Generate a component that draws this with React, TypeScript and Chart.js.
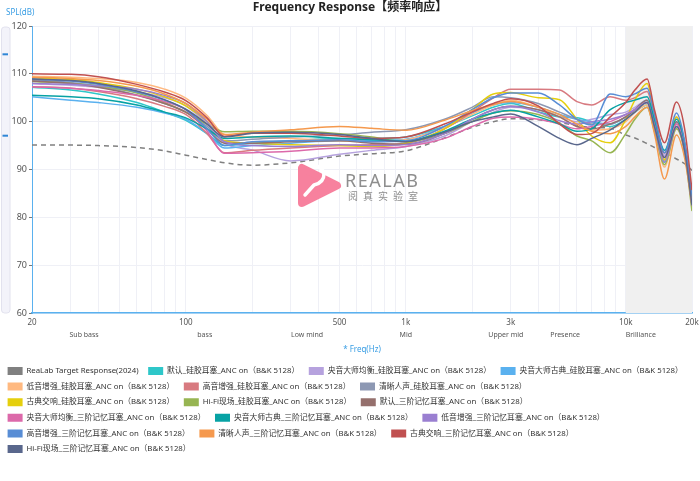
import React, { useEffect, useRef } from 'react';
import { Chart, registerables } from 'chart.js';

Chart.register(...registerables);
Chart.defaults.font.family = "'Noto Sans', 'Noto Sans CJK SC', sans-serif";

// shared frequency points (Hz)
const FREQS = [20, 30, 40, 60, 80, 100, 125, 150, 200, 300, 500, 700, 1000, 1500, 2000, 2500, 3000, 4000, 5000, 6000, 7000, 8500, 10000, 11000, 12500, 13500, 15000, 17000, 18500, 20000];

const GRID_FREQS = [20, 30, 40, 50, 60, 70, 80, 90, 100, 200, 300, 400, 500, 600, 700, 800, 900, 1000, 2000, 3000, 4000, 5000, 6000, 7000, 8000, 9000, 10000, 20000];
const TICK_LABELS: Record<number, string> = { 20: '20', 100: '100', 500: '500', 1000: '1k', 3000: '3k', 10000: '10k', 20000: '20k' };

const BAND_NAMES = ['Sub bass', 'bass', 'Low mind', 'Mid', 'Upper mid', 'Presence', 'Brilliance'];
const BAND_FREQS = [34.5, 122, 356, 1000, 2850, 5300, 11700];

const target = [95.1, 95.1, 95.0, 94.6, 93.9, 93.0, 92.1, 91.4, 90.9, 91.4, 92.8, 93.3, 93.9, 96.6, 98.8, 100.0, 100.6, 100.4, 99.8, 99.2, 98.8, 98.6, 97.2, 96.6, 95.4, 94.6, 93.6, 92.2, 91.2, 89.8];
const defaultSilicone = [107.2, 106.6, 105.8, 104.0, 102.0, 100.3, 97.5, 95.0, 95.5, 96.0, 96.5, 96.5, 96.8, 99.0, 101.2, 103.0, 103.8, 102.1, 101.0, 100.8, 100.0, 99.0, 100.5, 102.0, 103.5, 99.0, 91.5, 99.0, 94.5, 82.5];
const masterEqSilicone = [108.0, 107.6, 107.2, 106.2, 105.0, 103.3, 99.5, 95.5, 94.1, 91.8, 93.2, 94.0, 94.8, 97.0, 100.0, 102.0, 103.0, 102.5, 101.0, 100.0, 100.5, 101.5, 102.0, 103.0, 104.5, 100.0, 93.0, 100.0, 95.0, 84.0];
const masterClassicSilicone = [105.2, 104.5, 104.0, 103.0, 101.8, 100.5, 97.5, 94.5, 95.0, 95.5, 96.0, 96.0, 96.3, 99.0, 101.8, 103.5, 104.0, 103.0, 101.5, 100.5, 100.0, 99.5, 101.0, 102.5, 104.5, 99.5, 92.5, 100.0, 95.0, 83.5];
const bassSilicone = [109.5, 109.3, 109.0, 108.2, 106.8, 104.9, 101.3, 97.3, 96.8, 96.5, 96.0, 95.8, 96.2, 98.8, 101.5, 103.5, 104.5, 103.0, 101.0, 99.0, 98.2, 98.5, 100.0, 102.0, 103.5, 99.0, 90.5, 98.5, 94.0, 83.5];
const trebleSilicone = [107.3, 107.0, 106.3, 104.8, 103.2, 101.5, 97.5, 93.5, 94.0, 94.5, 95.0, 95.2, 95.5, 98.5, 102.0, 105.0, 106.8, 106.8, 106.6, 104.2, 103.5, 105.2, 104.5, 105.0, 106.3, 101.0, 93.5, 101.0, 95.5, 84.0];
const vocalSilicone = [108.7, 108.2, 107.4, 105.6, 103.8, 102.0, 99.0, 96.0, 96.3, 96.8, 97.2, 97.8, 98.3, 100.5, 103.0, 105.2, 105.0, 103.8, 102.0, 100.5, 99.5, 99.5, 101.0, 102.5, 104.0, 99.5, 92.0, 99.5, 94.5, 83.0];
const symphonySilicone = [109.2, 108.8, 108.2, 106.8, 105.2, 103.3, 100.0, 96.0, 95.5, 95.2, 95.0, 94.8, 95.5, 98.5, 102.5, 105.8, 106.1, 105.0, 104.6, 100.5, 97.0, 95.6, 100.5, 104.5, 108.0, 101.0, 92.0, 101.0, 95.5, 83.0];
const hifiSilicone = [108.4, 108.0, 107.5, 106.0, 104.0, 102.0, 99.5, 97.9, 98.0, 98.0, 97.5, 96.8, 95.8, 97.5, 100.0, 101.8, 102.3, 101.5, 99.7, 97.0, 96.0, 93.5, 97.5, 100.5, 103.0, 98.0, 91.0, 98.5, 93.5, 81.3];
const defaultFoam = [108.5, 108.0, 107.2, 105.5, 103.8, 102.0, 98.5, 95.5, 95.5, 95.8, 96.0, 95.5, 95.3, 97.5, 100.5, 102.5, 103.2, 102.5, 101.0, 99.0, 98.5, 99.5, 101.0, 102.5, 104.5, 99.5, 93.5, 100.0, 95.0, 83.5];
const masterEqFoam = [107.3, 107.0, 106.5, 105.5, 104.2, 102.5, 98.0, 93.4, 93.5, 93.8, 94.5, 94.5, 94.8, 96.5, 99.0, 100.7, 101.0, 100.5, 99.5, 98.5, 99.0, 100.0, 101.5, 102.5, 104.0, 99.5, 92.5, 99.5, 94.5, 83.0];
const masterClassicFoam = [105.5, 105.2, 104.8, 103.5, 102.0, 100.8, 98.5, 96.5, 96.8, 97.0, 96.5, 96.2, 96.0, 98.0, 100.5, 101.8, 102.4, 101.0, 99.5, 98.0, 98.5, 102.5, 104.0, 104.5, 105.2, 100.5, 94.0, 100.5, 95.5, 84.0];
const bassFoam = [108.0, 107.8, 107.5, 106.8, 105.5, 103.8, 100.0, 95.8, 95.0, 94.8, 95.2, 95.0, 95.2, 97.5, 100.5, 102.5, 103.2, 102.0, 100.2, 99.5, 100.0, 100.5, 101.5, 102.5, 104.0, 99.0, 91.5, 99.0, 94.0, 82.5];
const trebleFoam = [108.9, 108.5, 107.8, 106.2, 104.5, 102.5, 98.5, 95.0, 95.8, 96.0, 96.2, 95.8, 96.0, 99.0, 102.5, 105.0, 106.0, 106.0, 103.5, 100.5, 99.3, 105.8, 105.2, 105.8, 107.0, 101.5, 93.5, 101.8, 96.0, 84.5];
const vocalFoam = [109.3, 109.0, 108.6, 107.4, 105.8, 103.8, 100.5, 97.3, 97.8, 98.3, 99.0, 98.6, 98.2, 100.3, 102.3, 103.6, 104.2, 103.0, 101.5, 99.5, 98.0, 97.5, 99.0, 101.0, 103.0, 97.5, 88.0, 97.2, 92.5, 82.5];
const symphonyFoam = [110.0, 109.9, 109.4, 107.8, 106.2, 104.4, 100.8, 96.9, 97.6, 97.6, 97.0, 96.5, 96.8, 99.5, 102.0, 103.8, 104.8, 103.3, 99.5, 97.3, 97.5, 101.0, 104.0, 106.6, 108.9, 102.5, 95.6, 104.1, 98.6, 85.7];
const hifiFoam = [108.9, 108.6, 108.0, 106.4, 104.6, 102.6, 99.5, 96.8, 97.6, 97.8, 97.3, 96.5, 95.8, 97.8, 100.0, 101.0, 101.6, 99.0, 96.5, 95.2, 96.5, 98.3, 100.5, 102.0, 104.0, 99.0, 92.5, 99.0, 94.0, 82.5];

const SERIES_NAMES = [
  'ReaLab Target Response(2024)',
  '默认_硅胶耳塞_ANC on（B&K 5128）',
  '央音大师均衡_硅胶耳塞_ANC on（B&K 5128）',
  '央音大师古典_硅胶耳塞_ANC on（B&K 5128）',
  '低音增强_硅胶耳塞_ANC on（B&K 5128）',
  '高音增强_硅胶耳塞_ANC on（B&K 5128）',
  '清晰人声_硅胶耳塞_ANC on（B&K 5128）',
  '古典交响_硅胶耳塞_ANC on（B&K 5128）',
  'Hi-Fi现场_硅胶耳塞_ANC on（B&K 5128）',
  '默认_三阶记忆耳塞_ANC on（B&K 5128）',
  '央音大师均衡_三阶记忆耳塞_ANC on（B&K 5128）',
  '央音大师古典_三阶记忆耳塞_ANC on（B&K 5128）',
  '低音增强_三阶记忆耳塞_ANC on（B&K 5128）',
  '高音增强_三阶记忆耳塞_ANC on（B&K 5128）',
  '清晰人声_三阶记忆耳塞_ANC on（B&K 5128）',
  '古典交响_三阶记忆耳塞_ANC on（B&K 5128）',
  'Hi-Fi现场_三阶记忆耳塞_ANC on（B&K 5128）',
];
const SERIES_VALUES = [
  target, defaultSilicone, masterEqSilicone, masterClassicSilicone, bassSilicone, trebleSilicone,
  vocalSilicone, symphonySilicone, hifiSilicone, defaultFoam, masterEqFoam, masterClassicFoam,
  bassFoam, trebleFoam, vocalFoam, symphonyFoam, hifiFoam,
];
const SERIES_COLORS = [
  '#808080', '#2ec7c9', '#b6a2de', '#5ab1ef', '#ffb980', '#d87a80', '#8d98b3', '#e5cf0d', '#97b552',
  '#95706d', '#dc69aa', '#07a2a4', '#9a7fd1', '#588dd5', '#f5994e', '#c05050', '#59678c',
];

const decor = {
  id: 'decor',
  beforeDatasetsDraw(chart: any) {
    const { ctx, chartArea: a, scales } = chart;
    const x0 = scales.x.getPixelForValue(10000);
    ctx.save();
    ctx.fillStyle = '#f0f0f0';
    ctx.fillRect(x0, a.top, a.right - x0, a.bottom - a.top);

    // watermark logo
    ctx.fillStyle = '#f7819e';
    ctx.strokeStyle = '#f7819e';
    ctx.lineWidth = 8;
    ctx.lineJoin = 'round';
    ctx.beginPath();
    ctx.moveTo(302, 168);
    ctx.lineTo(302, 203);
    ctx.lineTo(337, 185.5);
    ctx.closePath();
    ctx.fill();
    ctx.stroke();
    ctx.strokeStyle = '#ffffff';
    ctx.lineWidth = 3.5;
    ctx.lineCap = 'round';
    ctx.beginPath();
    ctx.moveTo(312, 165);
    ctx.bezierCurveTo(327, 166, 328, 182, 314, 185);
    ctx.lineTo(305, 195);
    ctx.stroke();

    ctx.fillStyle = '#8e8e8e';
    ctx.textBaseline = 'alphabetic';
    ctx.textAlign = 'left';
    ctx.font = "18px 'Noto Sans', sans-serif";
    (ctx as any).letterSpacing = '1.5px';
    ctx.fillText('REALAB', 345, 187);
    ctx.font = "10px 'Noto Sans CJK SC', sans-serif";
    (ctx as any).letterSpacing = '5px';
    ctx.fillText('阅真实验室', 348, 200);
    (ctx as any).letterSpacing = '0px';
    ctx.restore();
  },
  afterDraw(chart: any) {
    const { ctx, chartArea: a, scales } = chart;
    ctx.save();
    // band labels
    ctx.fillStyle = '#555';
    ctx.font = "7px 'Noto Sans', sans-serif";
    ctx.textAlign = 'center';
    ctx.textBaseline = 'middle';
    BAND_NAMES.forEach((name, i) => {
      ctx.fillText(name, scales.x.getPixelForValue(BAND_FREQS[i]), a.bottom + 22);
    });
    // y axis name
    ctx.fillStyle = '#3a9ee4';
    ctx.font = "8px 'Noto Sans', sans-serif";
    ctx.textAlign = 'left';
    ctx.fillText('SPL(dB)', 6, 13);
    // slider on the left
    ctx.fillStyle = '#f3f3fa';
    ctx.strokeStyle = '#e2e2ee';
    ctx.lineWidth = 1;
    ctx.beginPath();
    ctx.roundRect(1.5, a.top + 1, 8.5, a.bottom - a.top - 1, 3);
    ctx.fill();
    ctx.stroke();
    ctx.fillStyle = '#2f86d6';
    ctx.fillRect(2.5, 53.3, 5.5, 2);
    ctx.fillRect(2.5, 134.7, 5.5, 2);
    ctx.restore();
  },
};

const App: React.FC = () => {
  const canvasRef = useRef<HTMLCanvasElement>(null);

  useEffect(() => {
    document.body.style.margin = '0';
    if (!canvasRef.current) return;

    const datasets = SERIES_NAMES.map((name, i) => ({
      label: name,
      data: FREQS.map((f, j) => ({ x: f, y: SERIES_VALUES[i][j] })),
      borderColor: SERIES_COLORS[i],
      backgroundColor: SERIES_COLORS[i],
      borderWidth: 1.5,
      borderDash: i === 0 ? [5, 4] : [],
      pointRadius: 0,
      fill: false,
      cubicInterpolationMode: 'monotone' as const,
      order: 100 - i,
    }));

    const chart = new Chart(canvasRef.current, {
      type: 'line',
      data: { datasets },
      plugins: [decor],
      options: {
        responsive: true,
        maintainAspectRatio: false,
        animation: false,
        layout: { padding: { left: 0, right: 0, top: 0, bottom: 18 } },
        plugins: {
          title: {
            display: true,
            text: 'Frequency Response【频率响应】',
            color: '#222',
            font: { size: 12, weight: 'bold' },
            padding: { top: 0.6, bottom: 11 },
          },
          legend: {
            position: 'bottom',
            align: 'start',
            labels: {
              boxWidth: 15,
              boxHeight: 8,
              padding: 7.6,
              color: '#333',
              font: { size: 7.8 },
              sort: (a: any, b: any) => a.datasetIndex - b.datasetIndex,
              generateLabels: (c: any) =>
                Chart.defaults.plugins.legend.labels.generateLabels(c).map((it: any) => ({
                  ...it,
                  text: it.text + '\u2005',
                  lineWidth: 0,
                  lineDash: [],
                  strokeStyle: it.fillStyle,
                })),
            },
          },
          tooltip: { enabled: false },
        },
        scales: {
          x: {
            type: 'logarithmic',
            min: 20,
            max: 20000,
            afterBuildTicks: (s: any) => {
              s.ticks = GRID_FREQS.map(v => ({ value: v }));
            },
            afterFit: (s: any) => {
              s.height = 46.4;
              s.paddingRight = 8;
              s.paddingLeft = 0;
            },
            ticks: {
              autoSkip: false,
              maxRotation: 0,
              padding: 5,
              color: '#555',
              font: { size: 8 },
              callback: (v: any) => TICK_LABELS[Number(v)] ?? '',
            },
            grid: { color: '#eff0f6', drawTicks: false },
            border: { color: '#5ab1ef', width: 1.5 },
            title: {
              display: true,
              text: '* Freq(Hz)',
              color: '#3a9ee4',
              font: { size: 8 },
              padding: { top: 0, bottom: 4.6 },
            },
          },
          y: {
            min: 60,
            max: 120,
            afterFit: (s: any) => {
              s.width = 32;
            },
            ticks: { stepSize: 10, color: '#555', font: { size: 9 }, padding: 2 },
            grid: { color: '#eff0f6', tickLength: 3, tickColor: '#777' },
            border: { color: '#5ab1ef', width: 1 },
          },
        },
      },
    });

    return () => {
      chart.destroy();
    };
  }, []);

  return (
    <div style={{ width: 700, height: 481, position: 'relative' }}>
      <canvas ref={canvasRef} />
    </div>
  );
};

export default App;
